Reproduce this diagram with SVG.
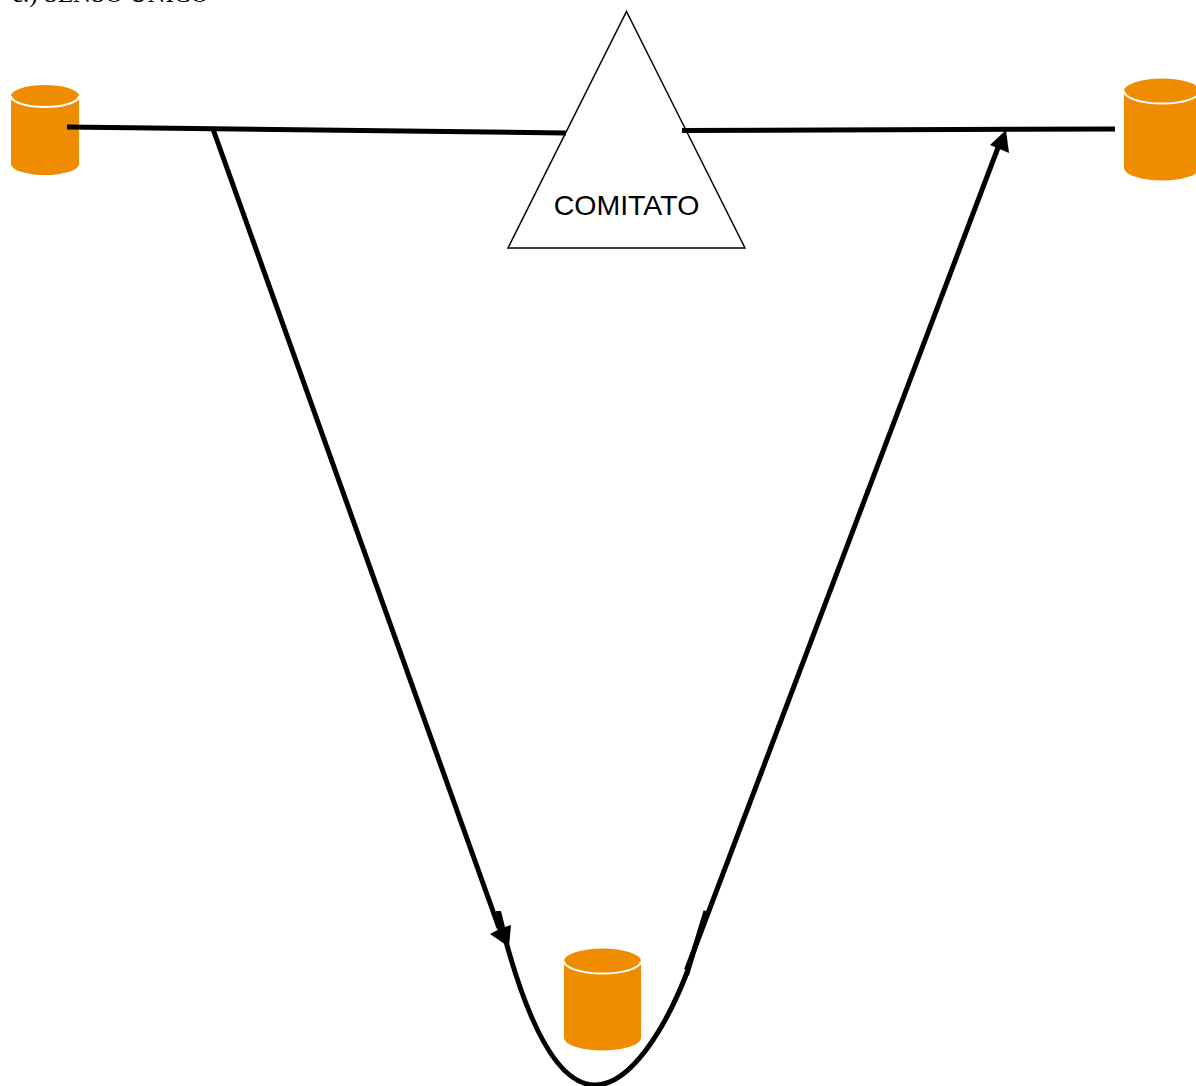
<svg xmlns="http://www.w3.org/2000/svg" width="1196" height="1086" viewBox="0 0 1196 1086">
<style>
.c{fill:none;stroke:#000;stroke-width:5}
.b{fill:#f08c00}
.r{fill:none;stroke:#fff;stroke-width:2}
.h{fill:#000}
</style>
<rect width="1196" height="1086" fill="#fff"/>
<text x="12" y="2" font-family="'Liberation Serif',serif" font-size="25" fill="#000">c.) SENSO UNICO</text>
<g id="node-left">
<path class="b" d="M11 96A34 11 0 0 1 79 96V164A34 11 0 0 1 11 164Z"/>
<path class="r" d="M11 96A34 11 0 0 0 79 96"/>
</g>
<g id="node-right">
<path class="b" d="M1124 91A38 12.500 0 0 1 1200 91V168A38 12.500 0 0 1 1124 168Z"/>
<path class="r" d="M1124 91A38 12.500 0 0 0 1200 91"/>
</g>
<g id="node-bottom">
<path class="b" d="M564 961A38.500 12.500 0 0 1 641 961V1038A38.500 12.500 0 0 1 564 1038Z"/>
<path class="r" d="M564 961A38.500 12.500 0 0 0 641 961"/>
</g>
<g id="node-comitato">
<path d="M626.500 11.500L745 248H508Z" fill="#fff" stroke="#000" stroke-width="1.500"/>
<text x="626.500" y="215" font-family="'Liberation Sans',sans-serif" font-size="28.500" text-anchor="middle" fill="#000">COMITATO</text>
</g>
<g id="connectors">
<path class="c" d="M67 127L566 133"/>
<path class="c" d="M682 130.500L1115 129"/>
<path class="c" d="M213 129L499 928"/>
<path class="h" d="M509 947L490 934L497.500 930L496 911L501 911L505 927L511 925Z"/>
<path class="c" d="M505 938C530 1030 560 1085 595 1085C630 1085 665 1030 688 970"/>
<path class="c" d="M686.500 975L706 911"/>
<path class="c" d="M686.500 970L999 145"/>
<path class="h" d="M1006 130L1009 153L990 145Z"/>
</g>
</svg>
